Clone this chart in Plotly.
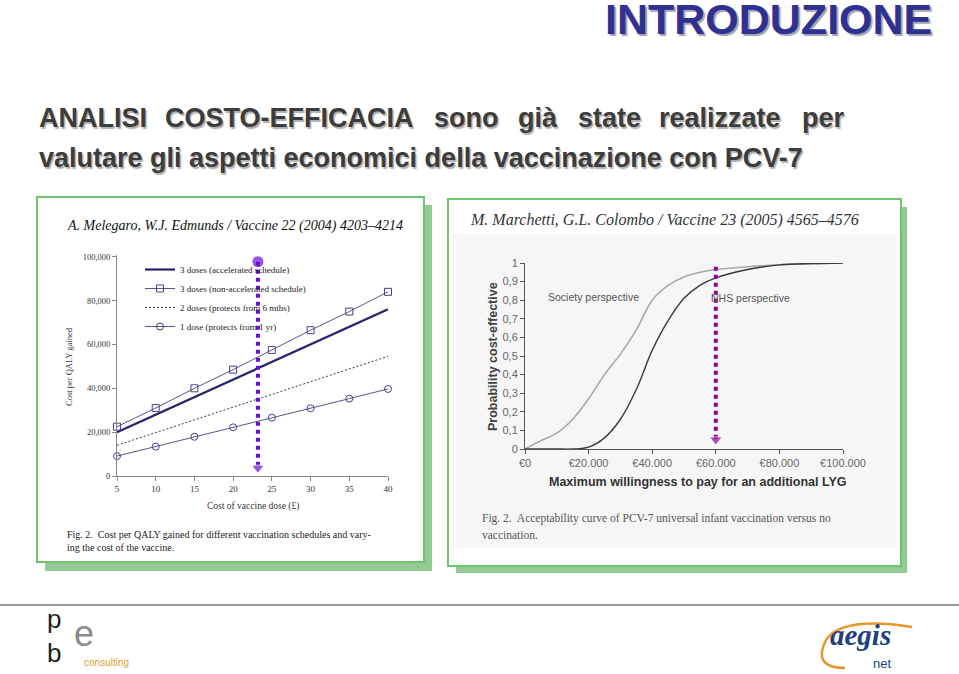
import plotly.graph_objects as go

W, H = 959, 674


def px(x):
    return x / W


def py(y):
    return 1 - y / H


# ---------------- data: left chart (Melegaro & Edmunds) ----------------
dose_cost = [5, 10, 15, 20, 25, 30, 35, 40]
accelerated_3 = [20000, 28000, 36000, 44000, 52000, 60000, 68000, 76000]
non_accelerated_3 = [22500, 31000, 40000, 48500, 57500, 66500, 75000, 84000]
doses_2 = [14000, 19800, 25600, 31400, 37200, 43000, 48800, 54600]
dose_1 = [9100, 13400, 17900, 22200, 26600, 30900, 35300, 39700]
left_names = ["3 doses (accelerated schedule)", "3 doses (non-accelerated schedule)",
              "2 doses (protects from 6 mths)", "1 dose (protects from 1 yr)"]
left_yticks = [0, 20000, 40000, 60000, 80000, 100000]
left_xticks = [5, 10, 15, 20, 25, 30, 35, 40]
left_arrow_x = [23.2, 23.2]
left_arrow_y = [97700, 3700]

# ---------------- data: right chart (Marchetti & Colombo) ----------------
wtp = [0, 5000, 10000, 15000, 20000, 25000, 30000, 35000, 40000, 45000,
       50000, 55000, 60000, 70000, 80000, 90000, 100000]
society = [0, 0.045, 0.085, 0.16, 0.27, 0.40, 0.51, 0.64, 0.80, 0.88,
           0.925, 0.95, 0.965, 0.98, 0.99, 0.996, 1.0]
nhs = [0, 0, 0, 0, 0.01, 0.06, 0.16, 0.32, 0.53, 0.69,
       0.81, 0.88, 0.92, 0.965, 0.99, 0.997, 1.0]
right_yticks = [0, 0.1, 0.2, 0.3, 0.4, 0.5, 0.6, 0.7, 0.8, 0.9, 1]
right_ytext = ["0", "0,1", "0,2", "0,3", "0,4", "0,5", "0,6", "0,7", "0,8", "0,9", "1"]
right_xticks = [0, 20000, 40000, 60000, 80000, 100000]
right_xtext = ["€0", "€20.000", "€40.000", "€60.000", "€80.000", "€100.000"]
right_arrow_x = [60000, 60000]
right_arrow_y = [1.066, 0.05]

SERIF = "Liberation Serif, Times New Roman, serif"
SANS = "Liberation Sans, Arial, sans-serif"

fig = go.Figure()

# left chart traces
fig.add_trace(go.Scatter(x=dose_cost, y=accelerated_3, name=left_names[0], mode="lines",
                         line=dict(color="#25256e", width=2.2), xaxis="x", yaxis="y",
                         cliponaxis=False))
fig.add_trace(go.Scatter(x=dose_cost, y=non_accelerated_3, name=left_names[1], mode="lines+markers",
                         line=dict(color="#55558f", width=1),
                         marker=dict(symbol="square-open", size=7, color="#44448a",
                                     line=dict(width=1)),
                         xaxis="x", yaxis="y", cliponaxis=False))
fig.add_trace(go.Scatter(x=dose_cost, y=doses_2, name=left_names[2], mode="lines",
                         line=dict(color="#33336e", width=1, dash="2px,2px"),
                         xaxis="x", yaxis="y", cliponaxis=False))
fig.add_trace(go.Scatter(x=dose_cost, y=dose_1, name=left_names[3], mode="lines+markers",
                         line=dict(color="#55558f", width=1),
                         marker=dict(symbol="circle-open", size=7, color="#44448a",
                                     line=dict(width=1)),
                         xaxis="x", yaxis="y", cliponaxis=False))
fig.add_trace(go.Scatter(x=left_arrow_x, y=left_arrow_y, mode="lines+markers", showlegend=False,
                         line=dict(color="#6a0fd0", width=4, dash="dot"),
                         marker=dict(symbol=["circle", "triangle-down"], size=[12, 11],
                                     color="#6a0fd0"),
                         xaxis="x", yaxis="y", cliponaxis=False))

# right chart traces
fig.add_trace(go.Scatter(x=wtp, y=society, mode="lines", showlegend=False,
                         line=dict(color="#a8a8a8", width=1.6, shape="spline"),
                         xaxis="x2", yaxis="y2", cliponaxis=False))
fig.add_trace(go.Scatter(x=wtp, y=nhs, mode="lines", showlegend=False,
                         line=dict(color="#3a3a3a", width=1.4, shape="spline"),
                         xaxis="x2", yaxis="y2", cliponaxis=False))
fig.add_trace(go.Scatter(x=right_arrow_x, y=right_arrow_y, mode="lines+markers", showlegend=False,
                         line=dict(color="#990099", width=4, dash="dot"),
                         marker=dict(symbol=["circle", "triangle-down"], size=[12, 11],
                                     color="#990099"),
                         xaxis="x2", yaxis="y2", cliponaxis=False))

axis_common = dict(showgrid=False, zeroline=False, showline=True, ticks="outside", ticklen=4)

fig.update_layout(
    width=W, height=H, margin=dict(l=0, r=0, t=0, b=0, autoexpand=False),
    paper_bgcolor="white", plot_bgcolor="rgba(0,0,0,0)",
    showlegend=True,
    legend=dict(x=px(140), y=py(255), xanchor="left", yanchor="top",
                font=dict(family=SERIF, size=9, color="#222"),
                bgcolor="rgba(0,0,0,0)", tracegroupgap=0, itemwidth=30),
    xaxis=dict(domain=[px(117), px(388)], range=[5, 40], anchor="y",
               tickvals=left_xticks, linecolor="#888", tickcolor="#888",
               tickfont=dict(family=SERIF, size=9, color="#333"), **axis_common),
    yaxis=dict(domain=[py(476), py(255)], range=[0, 100800], anchor="x",
               tickvals=left_yticks, tickprefix="£", tickformat=",", showtickprefix="all",
               linecolor="#888", tickcolor="#888",
               tickfont=dict(family=SERIF, size=8.5, color="#333"), **axis_common),
    xaxis2=dict(domain=[px(525), px(843)], range=[0, 100000], anchor="y2",
                tickvals=right_xticks, ticktext=right_xtext, linecolor="#555", tickcolor="#555",
                tickfont=dict(family=SANS, size=11, color="#666"), **axis_common),
    yaxis2=dict(domain=[py(449), py(263)], range=[0, 1], anchor="x2",
                tickvals=right_yticks, ticktext=right_ytext, linecolor="#555", tickcolor="#555",
                tickfont=dict(family=SANS, size=11, color="#666"), **axis_common),
)

shapes = []


def rect(x0, y0, x1, y1, fill, line_color=None, lw=0):
    return dict(type="rect", xref="paper", yref="paper", layer="below",
                x0=px(x0), x1=px(x1), y0=py(y1), y1=py(y0), fillcolor=fill,
                line=dict(color=line_color or fill, width=lw))


# panel frames with green drop shadows
shapes.append(rect(45, 205, 432, 571, "#93c993"))
shapes.append(rect(37, 197, 424, 562, "white", "#6cc46c", 2))
shapes.append(rect(456, 207, 907, 573, "#93c993"))
shapes.append(rect(448, 199, 901, 566, "white", "#6cc46c", 2))
shapes.append(rect(452, 234, 897, 548, "#f6f6f6"))
# footer rule
shapes.append(dict(type="line", xref="paper", yref="paper", x0=0, x1=1, y0=py(605), y1=py(605),
                   line=dict(color="#9a9a9a", width=2)))


def path(points):
    s = "M %f,%f" % (px(points[0][0]), py(points[0][1]))
    rest = points[1:]
    for i in range(0, len(rest), 2):
        (cx, cy), (ex, ey) = rest[i], rest[i + 1]
        s += " Q %f,%f %f,%f" % (px(cx), py(cy), px(ex), py(ey))
    return s


# aegis logo orange arc
shapes.append(dict(type="path", xref="paper", yref="paper",
                   path=path([(912, 627), (842, 616), (826, 640), (812, 668), (845, 668)]),
                   line=dict(color="#e8962e", width=2.5)))
fig.update_layout(shapes=shapes)

annotations = []


def ann(text, x, y, size, color="#222", family=SERIF, xanchor="center", yanchor="middle",
        angle=0, shadow=None, pad=1):
    font = dict(family=family, size=size, color=color)
    if shadow:
        font["shadow"] = shadow
    annotations.append(dict(text=text, x=px(x), y=py(y), xref="paper", yref="paper",
                            showarrow=False, xanchor=xanchor, yanchor=yanchor, textangle=angle,
                            borderpad=pad, font=font))


# header
ann("<b>INTRODUZIONE</b>", 933, 19, 43, "#2e3192", SANS, xanchor="right",
    shadow="2px 2px 1px #a0a0b0", pad=0)

line1 = [("ANALISI", 37), ("COSTO-EFFICACIA", 163), ("sono", 432), ("già", 516),
         ("state", 576), ("realizzate", 657), ("per", 800)]
for word, x0 in line1:
    ann("<b>%s</b>" % word, x0, 118, 27, "#3c3c3c", SANS, xanchor="left",
        shadow="1.5px 1.5px 1px #b0b0b0")
line2 = "valutare gli aspetti economici della vaccinazione con PCV-7"
ann("<b>%s</b>" % line2, 37, 158, 27, "#3c3c3c", SANS, xanchor="left",
    shadow="1.5px 1.5px 1px #b0b0b0")

# left panel texts
ann("<i>A. Melegaro, W.J. Edmunds / Vaccine 22 (2004) 4203–4214</i>", 65, 226, 14, "#111",
    xanchor="left")
ann("Cost per QALY gained", 69, 367, 8.5, "#333", angle=-90)
ann("Cost of vaccine dose (£)", 253, 506, 9.5, "#333")
ann("Fig. 2.  Cost per QALY gained for different vaccination schedules and vary-", 65, 534, 10,
    "#222", xanchor="left")
ann("ing the cost of the vaccine.", 65, 547, 10, "#222", xanchor="left")

# right panel texts
ann("<i>M. Marchetti, G.L. Colombo / Vaccine 23 (2005) 4565–4576</i>", 468, 220, 16, "#333",
    xanchor="left")
ann("Society perspective", 593, 297, 10.5, "#555", SANS)
ann("NHS perspective", 750, 298, 10.5, "#555", SANS)
ann("<b>Probability cost-effective</b>", 493, 357, 12.5, "#444", SANS, angle=-90)
ann("<b>Maximum willingness to pay for an additional LYG</b>", 698, 482, 12.5, "#333", SANS)
ann("Fig. 2.  Acceptability curve of PCV-7 universal infant vaccination versus no", 480, 518,
    11.5, "#555", xanchor="left")
ann("vaccination.", 480, 535, 11.5, "#555", xanchor="left")

# footer logos (text approximations)
ann("p<br>b", 54, 636, 26, "#1e1e1e", SANS, pad=0)
ann("e", 84, 633, 36, "#8a8a8a", SANS)
ann("consulting", 106, 662, 10, "#e0a030", SANS)
ann("<b><i>aegis</i></b>", 860, 635, 29, "#213f7e", SERIF)
ann("net", 882, 663, 13, "#213f7e", SANS)

fig.update_layout(annotations=annotations)

fig.write_html("out.html")
